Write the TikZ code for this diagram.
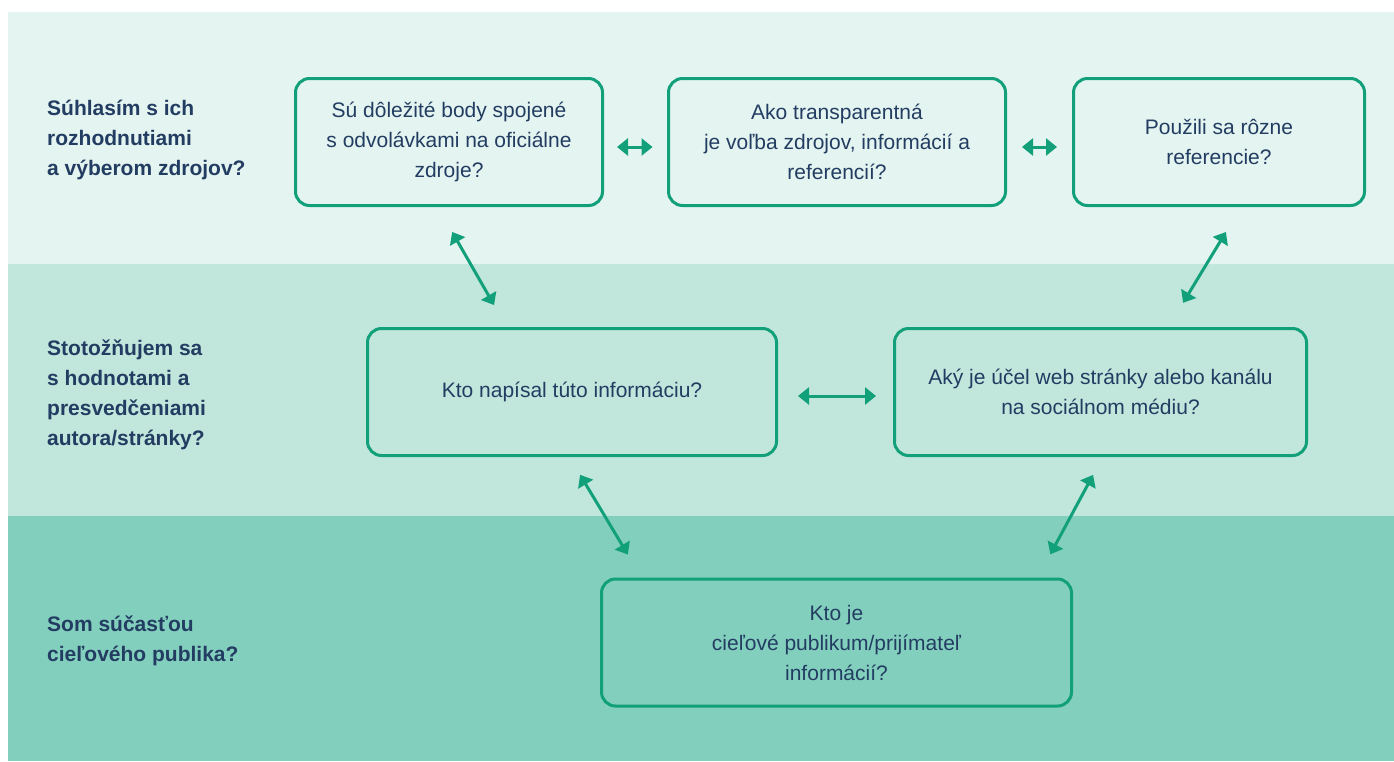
\documentclass[tikz,border=0pt]{standalone}
\usepackage{fontspec}
\setmainfont{Liberation Sans}
\usetikzlibrary{arrows.meta,positioning}
\definecolor{bandone}{HTML}{E4F4F0}
\definecolor{bandtwo}{HTML}{C1E6DC}
\definecolor{bandthree}{HTML}{82CFBD}
\definecolor{boxline}{HTML}{12A07A}
\definecolor{navy}{HTML}{233D62}

\begin{document}
\begin{tikzpicture}[x=1pt,y=-1pt,text=navy]
    \tikzstyle{question}=[rectangle, rounded corners=14pt, draw=boxline, line width=3pt, minimum height=127pt, align=center, inner sep=0pt, outer sep=0pt, font=\fontsize{21}{30}\selectfont]
    \tikzstyle{level}=[anchor=west, align=left, inner sep=0pt, font=\fontsize{21}{30}\selectfont\bfseries]
    \tikzstyle{link}=[draw=boxline, line width=3pt, {Triangle[length=11pt,width=17pt]}-{Triangle[length=11pt,width=17pt]}]

    \useasboundingbox (0,0) rectangle (1394,761);
    \fill[bandone] (8,12) rectangle (1394,264);
    \fill[bandtwo] (8,264) rectangle (1394,516);
    \fill[bandthree] (8,516) rectangle (1394,761);

    \node[level] (agree) at (47,140) {Súhlasím s ich\\ rozhodnutiami\\ a výberom zdrojov?};
    \node[level] (values) at (47,395) {Stotožňujem sa\\ s hodnotami a\\ presvedčeniami\\ autora/stránky?};
    \node[level] (audience) at (47,641) {Som súčasťou\\ cieľového publika?};

    \node[question, minimum width=307pt] (sources) at (449,142) {Sú dôležité body spojené\\ s odvolávkami na oficiálne\\ zdroje?};
    \node[question, minimum width=337pt] (transparency) [right=66pt of sources] {Ako transparentná\\ je voľba zdrojov, informácií a\\ referencií?};
    \node[question, minimum width=291pt] (references) [right=68pt of transparency] {Použili sa rôzne\\ referencie?};

    \node[question, minimum width=409pt] (author) at (572,392) {Kto napísal túto informáciu?};
    \node[question, minimum width=412pt] (purpose) [right=118pt of author] {Aký je účel web stránky alebo kanálu\\ na sociálnom médiu?};

    \node[question, minimum width=470pt] (target) at (836.5,642.5) {Kto je\\ cieľové publikum/prijímateľ\\ informácií?};

    \draw[link, shorten <=14.5pt, shorten >=16pt] ([yshift=-5pt]sources.east) -- ([yshift=-5pt]transparency.west);
    \draw[link, shorten <=16.5pt, shorten >=16.5pt] ([yshift=-5pt]transparency.east) -- ([yshift=-5pt]references.west);
    \draw[link, shorten <=21.5pt, shorten >=18.5pt] ([yshift=-4pt]author.east) -- ([yshift=-4pt]purpose.west);

    \draw[link, shorten <=30.5pt, shorten >=27pt] ([xshift=-12pt]sources.south) -- ([xshift=-64.5pt]author.north);
    \draw[link, shorten <=31pt, shorten >=30pt] ([xshift=23pt]references.south) -- ([xshift=67pt]purpose.north);
    \draw[link, shorten <=22.5pt, shorten >=28.5pt] ([xshift=-3.5pt]author.south) -- ([xshift=41pt]target.north west);
    \draw[link, shorten <=22pt, shorten >=28pt] ([xshift=3pt]purpose.south) -- ([xshift=-34.5pt]target.north east);
\end{tikzpicture}
\end{document}
